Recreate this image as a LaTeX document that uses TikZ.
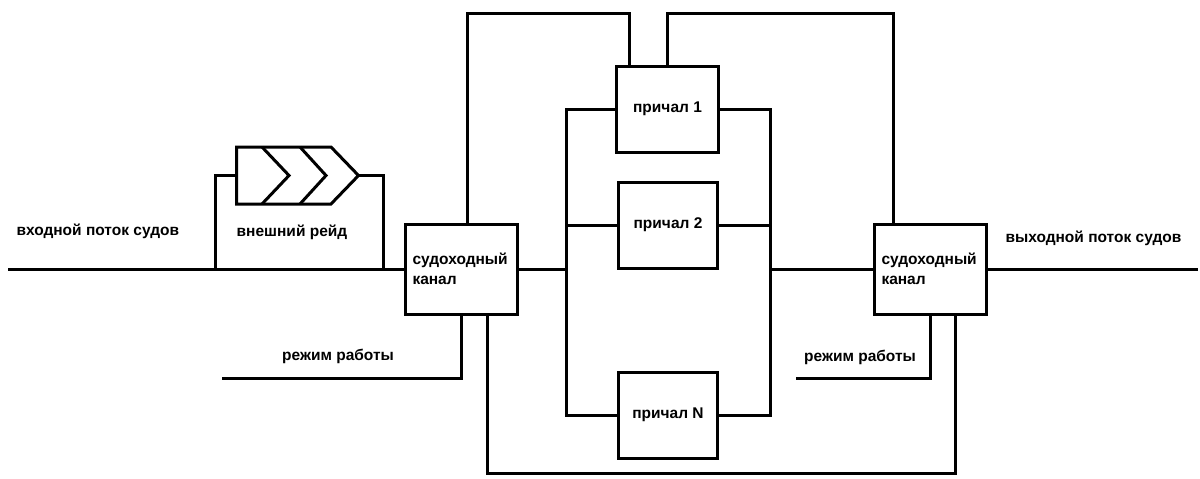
\documentclass[tikz,border=0pt]{standalone}
\usepackage{fontspec}
\setmainfont{Liberation Sans}
\begin{document}
\begin{tikzpicture}[x=1pt,y=-1pt,line width=3pt,line join=miter,
  every node/.style={font=\fontsize{15.5}{19.5}\selectfont\bfseries},
  chanbox/.style={draw,minimum width=112pt,minimum height=90pt,text width=97pt,align=left,inner sep=0pt},
  berth/.style={draw,minimum width=99pt,minimum height=86pt,inner sep=0pt},
  lbl/.style={inner sep=0pt}]
\useasboundingbox (0,0) rectangle (1200,479);
% boxes
\node[chanbox] (ch1) at (461,269) {судоходный\\канал};
\node[chanbox] (ch2) at (930,269) {судоходный\\канал};
\node[berth,minimum width=102pt] (b1) at (667.5,109) {причал 1};
\node[berth] (b2) at (668,225) {причал 2};
\node[berth] (bN) at (668,415) {причал N};
% queue (outer roadstead)
\node[inner sep=0pt,minimum width=119pt,minimum height=57pt] (q) at (297.5,175.5) {};
\draw (q.west |- 0,147) -- (331,147) -- (q.east) -- (331,204) -- (q.west |- 0,204) -- cycle;
\draw (262,147) -- (289,175.5) -- (262,204);
\draw (300,147) -- (326,175.5) -- (300,204);
% coordinates
\coordinate (inL) at (8,269);
\coordinate (outR) at (1198,269);
\coordinate (rL) at (215,269);
\coordinate (rR) at (383,269);
\coordinate (bl) at (566,0);
\coordinate (br) at (770,0);
\coordinate (top1) at (550,13);
\coordinate (top2) at (780,13);
\coordinate (bot) at (700,473);
\coordinate (modeL) at (222,378);
\coordinate (modeR) at (796,378);
% main flow
\draw (inL) -- (ch1.west);
\draw (ch2.east) -- (outR);
\draw (rL) |- (q.west);
\draw (q.east) -| (rR);
% bus
\draw (b1.west) -- (b1.west -| bl) -- (bN.west -| bl) -- (bN.west);
\draw (b2.west) -- (b2.west -| bl);
\draw (b1.east) -- (b1.east -| br) -- (bN.east -| br) -- (bN.east);
\draw (b2.east) -- (b2.east -| br);
\draw (ch1.east) -- (ch1.east -| bl);
\draw (ch2.west) -- (ch2.west -| br);
% top loops
\draw ([xshift=6pt]ch1.north) |- (top1) -| ([xshift=-38pt]b1.north);
\draw (b1.north) |- (top2) -| ([xshift=-37pt]ch2.north);
% bottom loop
\draw ([xshift=26pt]ch1.south) |- (bot) -| ([xshift=25pt]ch2.south);
% modes
\draw (ch1.south) |- (modeL);
\draw (ch2.south) |- (modeR);
% labels
\node[lbl,anchor=west] (tin) at (15,231) {входной поток судов};
\node[lbl,anchor=west] (tout) at (1004,238) {выходной поток судов};
\node[lbl] (treid) at (292,232) {внешний рейд};
\node[lbl] (tmodeL) at (338,356) {режим работы};
\node[lbl] (tmodeR) at (860,357) {режим работы};
\end{tikzpicture}
\end{document}
